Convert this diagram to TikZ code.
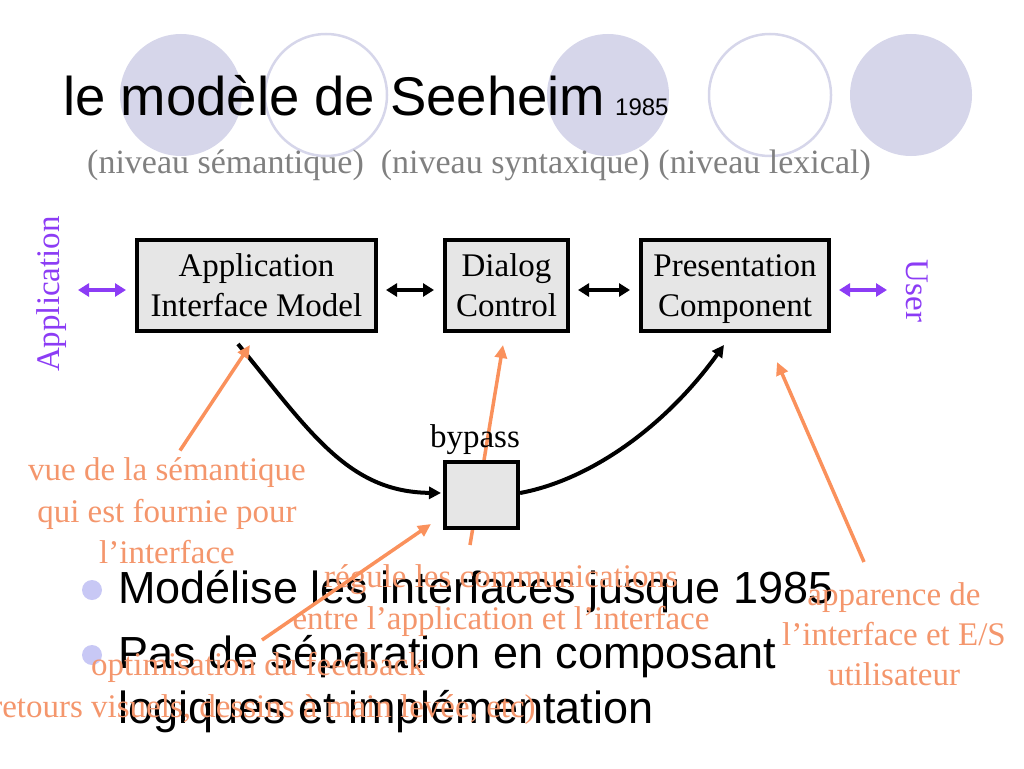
\documentclass[tikz,border=0pt]{standalone}
\usepackage{fontspec}
\setmainfont{Liberation Sans}
\newfontfamily\tms{Liberation Serif}
\usepackage{tikz}
\usetikzlibrary{arrows.meta, calc}
\definecolor{circlav}{RGB}{214,214,234}
\definecolor{bulletlav}{RGB}{200,200,245}
\definecolor{notecol}{RGB}{244,150,108}
\definecolor{notearr}{RGB}{250,145,92}
\definecolor{iopurple}{RGB}{140,60,245}
\definecolor{boxgray}{RGB}{230,230,230}
\definecolor{subgray}{RGB}{128,128,128}

\begin{document}
\begin{tikzpicture}[x=1pt, y=-1pt,
    layer/.style={draw=black, line width=4pt, fill=boxgray, inner sep=0pt, align=center, text depth=0pt, font=\tms\fontsize{33}{40}\selectfont},
    note/.style={text=notecol, align=center, inner sep=0pt, anchor=north, font=\tms\fontsize{33}{41.5}\selectfont},
    notearrow/.style={draw=notearr, line width=3.5pt, -{Triangle[length=13pt,width=12pt]}},
    flow/.style={draw=black, line width=4pt, -{Triangle[length=12pt,width=12pt]}},
    link/.style={draw=black, line width=3.5pt, shorten <=8pt, shorten >=9pt, {Triangle[length=11pt,width=13pt]}-{Triangle[length=11pt,width=13pt]}},
    iolink/.style={link, draw=iopurple, line width=4pt},
]
    \useasboundingbox (0,0) rectangle (1024,768);

    % The Decorative Circles
    \foreach \cx in {181,608,911} {
        \fill[circlav] (\cx,95) circle (61pt);
    }
    \foreach \cx in {326,770} {
        \draw[circlav, line width=2.5pt] (\cx,95) circle (61pt);
    }

    % Title
    \node[anchor=base west, inner sep=0pt, font=\fontsize{54.5}{60}\selectfont] (title) at (63,115) {le modèle de Seeheim};
    \node[anchor=base west, inner sep=0pt, font=\fontsize{24}{28}\selectfont] (year) at (615,115) {1985};
    \node[anchor=base west, inner sep=0pt, text=subgray, font=\tms\fontsize{34}{40}\selectfont] (levels) at (87,173)
        {(niveau sémantique)\ \ (niveau syntaxique) (niveau lexical)};

    % The Three Components
    \node[layer, minimum width=239pt, minimum height=91pt] (aim) at (256.5,285.5) {Application\\Interface Model};
    \node[layer, minimum width=123pt, minimum height=91pt] (dlg) at (506.5,285.5) {Dialog\\Control};
    \node[layer, minimum width=188pt, minimum height=91pt] (pres) at (735,285.5) {Presentation\\Component};

    % Both Ends
    \node[rotate=90, inner sep=0pt, text=iopurple, font=\tms\fontsize{33}{40}\selectfont] (applbl) at (52,294) {Application};
    \node[rotate=-90, inner sep=0pt, text=iopurple, font=\tms\fontsize{33}{40}\selectfont] (usrlbl) at (917,291) {User};
    \coordinate (appio) at (78,290);
    \coordinate (usrio) at (887,290);

    \draw[iolink, shorten <=0pt] (appio) -- ([yshift=-4.5pt]aim.west);
    \draw[link] ([yshift=-4.5pt]aim.east) -- ([yshift=-4.5pt]dlg.west);
    \draw[link] ([yshift=-4.5pt]dlg.east) -- ([yshift=-4.5pt]pres.west);
    \draw[iolink, shorten >=0pt] ([yshift=-4.5pt]pres.east) -- (usrio);

    % Bullet Points
    \fill[bulletlav] (92,590) circle (10pt);
    \fill[bulletlav] (92,655) circle (10pt);
    \node[anchor=base west, inner sep=0pt, font=\fontsize{45}{55}\selectfont] (pt1) at (118,603) {Modélise les interfaces jusque 1985};
    \node[anchor=base west, inner sep=0pt, align=left, font=\fontsize{45}{55}\selectfont] (pt2) at (118,723)
        {Pas de séparation en composant\\logiques et implémentation};

    % Annotations
    \node[note] (semnote) at (167,457.5) {vue de la sémantique\\qui est fournie pour\\l’interface};
    \node[note] (commnote) at (501,564.5) {régule les communications\\entre l’application et l’interface};
    \node[note, font=\tms\fontsize{33}{40}\selectfont] (looknote) at (894,582.5) {apparence de\\l’interface et E/S\\utilisateur};
    \node[note] (fbnote) at (258,652.5) {optimisation du feedback\\(retours visuels, dessins à main levée, etc)};

    \draw[notearrow] ([xshift=-31pt,yshift=19.5pt]commnote.north) -- ([xshift=-3.5pt,yshift=-12pt]dlg.south);

    % The Bypass
    \node[layer, minimum width=73pt, minimum height=66pt] (byp) at (481.5,495) {};
    \node[anchor=base, inner sep=0pt, font=\tms\fontsize{33}{40}\selectfont] (bylbl) at (475,447) {bypass};

    \draw[flow, shorten >=2pt] ([xshift=-18.5pt,yshift=-11pt]aim.south) .. controls +(72,88) and +(-95,-1) .. ([yshift=2pt]byp.west);
    \draw[flow] ([yshift=2pt]byp.east) .. controls +(70,-13) and +(-59,82) .. ([xshift=-11pt,yshift=-12pt]pres.south);

    \draw[notearrow] ([xshift=13pt,yshift=7pt]semnote.north) -- ([xshift=-6.5pt,yshift=-12pt]aim.south);
    \draw[notearrow] ([xshift=4pt,yshift=12.5pt]fbnote.north) -- ([xshift=-12pt,yshift=6pt]byp.south west);
    \draw[notearrow] ([xshift=-30pt,yshift=20.5pt]looknote.north) -- ([xshift=42pt,yshift=-29pt]pres.south);
\end{tikzpicture}
\end{document}
